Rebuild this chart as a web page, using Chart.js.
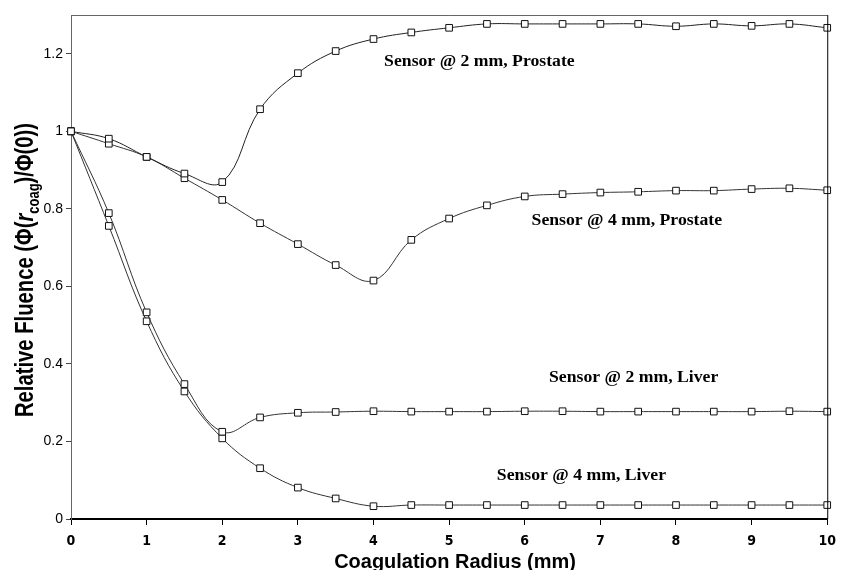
<!DOCTYPE html>
<html>
<head>
<meta charset="utf-8">
<script src="https://cdn.jsdelivr.net/npm/chart.js@4/dist/chart.umd.min.js"></script>
<style>
  html, body { margin: 0; padding: 0; background: #fff; }
  #wrap { width: 844px; height: 570px; position: relative; }
</style>
</head>
<body>
<div id="wrap"><canvas id="fluenceChart"></canvas></div>
<script>
// coagulation radius (mm)
const radius = [0, 0.5, 1, 1.5, 2, 2.5, 3, 3.5, 4, 4.5, 5, 5.5, 6, 6.5, 7, 7.5, 8, 8.5, 9, 9.5, 10];

const prostate2mm = [1.0, 0.981, 0.934, 0.891, 0.869, 1.057, 1.150, 1.207, 1.238, 1.255, 1.267,
    1.277, 1.277, 1.277, 1.277, 1.277, 1.271, 1.277, 1.272, 1.277, 1.267];
const prostate4mm = [1.0, 0.968, 0.934, 0.879, 0.823, 0.763, 0.709, 0.655, 0.615, 0.720, 0.775,
    0.809, 0.832, 0.838, 0.842, 0.844, 0.847, 0.847, 0.851, 0.853, 0.848];
const liver2mm = [1.0, 0.789, 0.533, 0.348, 0.225, 0.262, 0.274, 0.276, 0.278, 0.277, 0.277,
    0.277, 0.278, 0.278, 0.277, 0.277, 0.277, 0.277, 0.277, 0.278, 0.277];
const liver4mm = [1.0, 0.756, 0.510, 0.329, 0.208, 0.131, 0.081, 0.053, 0.033, 0.036, 0.036,
    0.036, 0.036, 0.036, 0.036, 0.036, 0.036, 0.036, 0.036, 0.036, 0.036];

const xTicks = [0, 1, 2, 3, 4, 5, 6, 7, 8, 9, 10];
const yTicks = [0, 0.2, 0.4, 0.6, 0.8, 1, 1.2];

const curveLabels = ['Sensor @ 2 mm, Prostate', 'Sensor @ 4 mm, Prostate', 'Sensor @ 2 mm, Liver', 'Sensor @ 4 mm, Liver'];
// label anchors in data units (x mm, y fluence)
const labelX = [5.40, 7.35, 7.44, 6.75];
const labelY = [1.179, 0.771, 0.366, 0.113];

const xTitle = 'Coagulation Radius (mm)';

function pairs(ys) {
    return radius.map((r, i) => ({ x: r, y: ys[i] }));
}

function series(ys, color) {
    return {
        data: pairs(ys),
        borderColor: color,
        borderWidth: 1,
        tension: 0.4,
        pointStyle: 'rect',
        pointRadius: 4.7,
        pointBorderWidth: 1,
        pointBorderColor: '#111',
        pointBackgroundColor: '#fff',
        clip: false,
    };
}

const frameAndLabels = {
    id: 'frameAndLabels',
    afterDatasetsDraw(chart) {
        const { ctx, chartArea: a, scales } = chart;
        ctx.save();
        // top and right borders
        ctx.lineWidth = 1;
        ctx.strokeStyle = '#666';
        ctx.beginPath();
        ctx.moveTo(a.left, a.top + 0.5);
        ctx.lineTo(a.right, a.top + 0.5);
        ctx.stroke();
        ctx.strokeStyle = '#000';
        ctx.beginPath();
        ctx.moveTo(a.right + 0.5, a.top);
        ctx.lineTo(a.right + 0.5, a.bottom);
        ctx.stroke();

        // curve labels
        ctx.fillStyle = '#000';
        ctx.font = 'bold 17.7px "Liberation Serif", "Times New Roman", serif';
        ctx.textAlign = 'center';
        ctx.textBaseline = 'middle';
        curveLabels.forEach((t, i) => {
            ctx.fillText(t, scales.x.getPixelForValue(labelX[i]), scales.y.getPixelForValue(labelY[i]));
        });

        // x axis title (slightly condensed)
        ctx.save();
        ctx.font = 'bold 21px "Liberation Sans", Arial, sans-serif';
        ctx.textBaseline = 'alphabetic';
        ctx.translate(455, 568);
        ctx.scale(0.95, 1);
        ctx.fillText(xTitle, 0, 0);
        ctx.restore();

        // y axis title with subscript (tall, condensed)
        const big = 'bold 25px "Liberation Sans", Arial, sans-serif';
        const ital = 'italic bold 25px "Liberation Sans", Arial, sans-serif';
        const small = 'bold 16px "Liberation Sans", Arial, sans-serif';
        const parts = [
            { t: 'Relative Fluence (\u03A6(', f: big, dy: 0 },
            { t: 'r', f: ital, dy: 0 },
            { t: 'coag', f: small, dy: 6 },
            { t: ')/\u03A6(0))', f: big, dy: 0 },
        ];
        let total = 0;
        parts.forEach(p => { ctx.font = p.f; p.w = ctx.measureText(p.t).width; total += p.w; });
        ctx.translate(33, 270);
        ctx.rotate(-Math.PI / 2);
        ctx.scale(0.81, 1);
        ctx.textAlign = 'left';
        ctx.textBaseline = 'alphabetic';
        let x = -total / 2;
        parts.forEach(p => {
            ctx.font = p.f;
            ctx.fillText(p.t, x, p.dy);
            x += p.w;
        });
        ctx.restore();
    }
};

const chart = new Chart(document.getElementById('fluenceChart'), {
    type: 'line',
    data: {
        datasets: [
            series(prostate2mm, '#222'),
            series(prostate4mm, '#333'),
            series(liver2mm, '#333'),
            series(liver4mm, '#333'),
        ],
    },
    options: {
        responsive: true,
        maintainAspectRatio: false,
        animation: false,
        layout: { padding: { left: 0, right: 16, top: 15, bottom: 0 } },
        plugins: {
            legend: { display: false },
            tooltip: { enabled: false },
        },
        scales: {
            x: {
                type: 'linear',
                min: 0,
                max: 10,
                afterBuildTicks: s => { s.ticks = xTicks.map(v => ({ value: v })); },
                afterFit: s => { s.height = 51; },
                grid: { drawOnChartArea: false, tickLength: 6, color: '#000' },
                border: { display: true, color: '#000', width: 2 },
                ticks: {
                    color: '#000',
                    padding: 8,
                    maxRotation: 0,
                    font: { family: '"DejaVu Sans Condensed", "Liberation Sans", Arial', size: 14, weight: 'bold' },
                },
                title: { display: false },
            },
            y: {
                type: 'linear',
                min: 0,
                max: 1.3,
                afterBuildTicks: s => { s.ticks = yTicks.map(v => ({ value: v })); },
                afterFit: s => { s.width = 71; },
                grid: { drawOnChartArea: false, tickLength: 5, color: '#444' },
                border: { display: true, color: '#666', width: 1 },
                ticks: {
                    color: '#000',
                    padding: 3,
                    callback: v => String(Math.round(v * 10) / 10),
                    font: { family: '"Liberation Sans", Arial', size: 14 },
                },
            },
        },
    },
    plugins: [frameAndLabels],
});
</script>
</body>
</html>
